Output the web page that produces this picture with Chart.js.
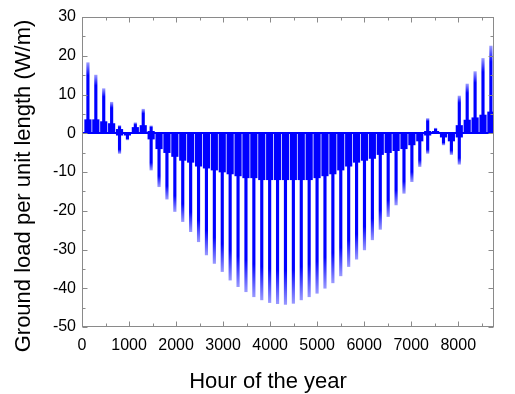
<!DOCTYPE html>
<html>
<head>
<meta charset="utf-8">
<script src="https://cdn.jsdelivr.net/npm/chart.js@4.4.1/dist/chart.umd.min.js"></script>
<style>
  html, body { margin: 0; padding: 0; background: #fff; }
  #wrap { width: 515px; height: 394px; }
</style>
</head>
<body>
<div id="wrap"><canvas id="chart"></canvas></div>
<script>
// Hour of the year where each weekly load cycle sits
const hours = [126, 294, 462, 630, 798, 966, 1134, 1302, 1470, 1638, 1806, 1974, 2142, 2310,
    2478, 2646, 2814, 2982, 3150, 3318, 3486, 3654, 3822, 3990, 4158, 4326, 4494, 4662, 4830,
    4998, 5166, 5334, 5502, 5670, 5838, 6006, 6174, 6342, 6510, 6678, 6846, 7014, 7182, 7350,
    7518, 7686, 7854, 8022, 8190, 8358, 8526, 8694];

// Weekly peak loads (W/m): highest and lowest hourly value in each week
const spikeHigh = [18.2, 15, 11.5, 8, 2, 0, 2.7, 6.2, 1.9,
    0, 0, 0, 0, 0, 0, 0, 0, 0, 0, 0, 0, 0, 0, 0, 0, 0,
    0, 0, 0, 0, 0, 0, 0, 0, 0, 0, 0, 0, 0, 0, 0, 0, 0,
    3.8, 1.3, 0, 0, 9.6, 12.7, 15.9, 19.3, 22.5];
const spikeLow = [0, 0, 0, 0, -5.2, -1.7, 0, 0, -9.5,
    -13.8, -17, -20.2, -22.8, -25.4, -28, -31.4, -33.6, -35.7, -37.9,
    -39.6, -40.9, -42.2, -43, -43.7, -44, -44.2, -43.9, -43, -42.2,
    -41.3, -40, -38.6, -36.8, -34.4, -32.5, -30.1, -27.5, -24.8, -21.5,
    -18.5, -15.5, -12.5, -8.6,
    -5.2, 0, -3, -5.5, -8, 0, 0, 0, 0];

// Typical daily load band in each week (W/m)
const bandHigh = [3.5, 3.5, 3, 2.5, 1, 0, 1.5, 2, 0.5,
    0, 0, 0, 0, 0, 0, 0, 0, 0, 0, 0, 0, 0, 0, 0, 0, 0,
    0, 0, 0, 0, 0, 0, 0, 0, 0, 0, 0, 0, 0, 0, 0, 0, 0,
    0.5, 0.5, 0, 0, 2, 3.4, 4, 4.7, 5.5];
const bandLow = [0, 0, 0, 0, -0.5, -0.5, 0, 0, -1.5,
    -4, -5, -6, -7, -7.5, -8.5, -9, -9.5, -10, -10.5,
    -11, -11.5, -11.5, -12, -12, -12, -12, -12, -12, -12,
    -11.5, -11, -10.5, -9.5, -8.5, -7.5, -7, -6.5, -5.5, -5,
    -4.5, -4, -3, -2,
    -0.5, 0, -1, -2, -1, 0, 0, 0, 0];

const xTickValues = [0, 1000, 2000, 3000, 4000, 5000, 6000, 7000, 8000];
const yTickValues = [-50, -40, -30, -20, -10, 0, 10, 20, 30];

const BLUE = '#0000ff';
const LIGHT = 'rgba(0,0,255,0.4)';
const FONT = '"Liberation Sans", Arial, sans-serif';

// spikes fade to a lighter tip, like the thin hourly lines in the original
function spikeFill(c) {
    const chart = c.chart;
    const raw = c.raw;
    if (!chart.chartArea || !raw) return BLUE;
    const y = chart.scales.y;
    const top = y.getPixelForValue(raw.y[1]);
    const bot = y.getPixelForValue(raw.y[0]);
    const zero = y.getPixelForValue(0);
    const len = bot - top;
    if (len < 2) return BLUE;
    const z = Math.min(Math.max((zero - top) / len, 0), 1);
    const g = chart.ctx.createLinearGradient(0, top, 0, bot);
    g.addColorStop(0, z > 0.05 ? LIGHT : BLUE);
    g.addColorStop(z * 0.18, BLUE);
    g.addColorStop(z, BLUE);
    g.addColorStop(z + (1 - z) * 0.8, BLUE);
    g.addColorStop(1, z < 0.95 ? LIGHT : BLUE);
    return g;
}

// box around the plot with inward major/minor ticks on all sides, plus axis titles
const framePlugin = {
    id: 'frame',
    afterDraw(chart) {
        const { ctx, chartArea: a, scales: { x, y } } = chart;
        const L = Math.round(a.left) + 0.5, R = Math.round(a.right) - 0.5;
        const T = Math.round(a.top) + 0.5, B = Math.round(a.bottom) - 0.5;
        ctx.save();
        ctx.strokeStyle = '#8a8a8a';
        ctx.lineWidth = 1;
        ctx.strokeRect(L, T, R - L, B - T);

        ctx.beginPath();
        const xMinor = xTickValues.map(v => v + 500).filter(v => v < x.max);
        xTickValues.concat(xMinor).forEach(v => {
            const len = xTickValues.includes(v) ? 5 : 3;
            const px = Math.round(x.getPixelForValue(v)) + 0.5;
            ctx.moveTo(px, B); ctx.lineTo(px, B - len);
            ctx.moveTo(px, T); ctx.lineTo(px, T + len);
        });
        const yMinor = yTickValues.map(v => v + 5).filter(v => v < y.max);
        yTickValues.concat(yMinor).forEach(v => {
            const len = yTickValues.includes(v) ? 5 : 3;
            const py = Math.round(y.getPixelForValue(v)) + 0.5;
            ctx.moveTo(L, py); ctx.lineTo(L + len, py);
            ctx.moveTo(R, py); ctx.lineTo(R - len, py);
        });
        ctx.stroke();

        ctx.fillStyle = '#000';
        ctx.font = '22px ' + FONT;
        ctx.textAlign = 'center';
        ctx.textBaseline = 'alphabetic';
        ctx.fillText('Hour of the year', 268, 388);
        ctx.translate(29.5, 186);
        ctx.rotate(-Math.PI / 2);
        ctx.fillText('Ground load per unit length (W/m)', 0, 0);
        ctx.restore();
    }
};

const ctx = document.getElementById('chart').getContext('2d');
new Chart(ctx, {
    type: 'bar',
    data: {
        datasets: [
            {
                label: 'Daily band',
                data: hours.map((h, i) => ({ x: h, y: [bandLow[i], bandHigh[i]] })),
                backgroundColor: BLUE,
                barThickness: 6.5,
                grouped: false
            },
            {
                label: 'Weekly peak',
                data: hours.map((h, i) => ({ x: h, y: [spikeLow[i], spikeHigh[i]] })),
                backgroundColor: spikeFill,
                barThickness: 2.5,
                grouped: false
            }
        ]
    },
    options: {
        responsive: true,
        maintainAspectRatio: false,
        animation: false,
        layout: { padding: { left: 0, top: 17, right: 21, bottom: 0 } },
        plugins: {
            legend: { display: false },
            tooltip: { enabled: false }
        },
        scales: {
            x: {
                type: 'linear',
                offset: false,
                min: 0,
                max: 8760,
                afterFit: s => { s.height = 67; },
                afterBuildTicks: s => { s.ticks = xTickValues.map(v => ({ value: v })); },
                grid: { display: false, drawTicks: false },
                border: { display: false },
                ticks: {
                    color: '#000', padding: 9, maxRotation: 0,
                    font: { family: FONT, size: 16 },
                    callback: v => String(v)
                }
            },
            y: {
                min: -50,
                max: 30,
                afterFit: s => { s.width = 82; },
                afterBuildTicks: s => { s.ticks = yTickValues.map(v => ({ value: v })); },
                grid: {
                    drawTicks: false,
                    color: c => (c.tick && c.tick.value === 0 ? BLUE : 'rgba(0,0,0,0)'),
                    lineWidth: 2
                },
                border: { display: false },
                ticks: {
                    color: '#000', padding: 6,
                    font: { family: FONT, size: 16 },
                    callback: v => String(v)
                }
            }
        }
    },
    plugins: [framePlugin]
});
</script>
</body>
</html>
